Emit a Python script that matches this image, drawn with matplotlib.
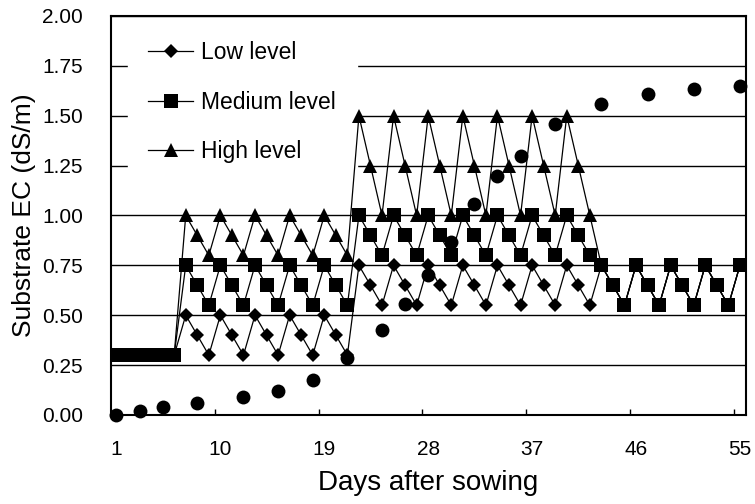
import matplotlib.pyplot as plt
from matplotlib.ticker import FormatStrFormatter

plt.rcParams['font.family'] = ['Liberation Sans', 'DejaVu Sans']

# days after sowing, 1..55
days = list(range(1, 56))

# substrate EC set points (dS/m), one per day
low_level = [0.3, 0.3, 0.3, 0.3, 0.3, 0.3,
             0.5, 0.4, 0.3, 0.5, 0.4, 0.3, 0.5, 0.4, 0.3, 0.5, 0.4, 0.3, 0.5, 0.4, 0.3,
             0.75, 0.65, 0.55, 0.75, 0.65, 0.55, 0.75, 0.65, 0.55, 0.75, 0.65, 0.55,
             0.75, 0.65, 0.55, 0.75, 0.65, 0.55, 0.75, 0.65, 0.55,
             0.75, 0.65, 0.55, 0.75, 0.65, 0.55, 0.75, 0.65, 0.55, 0.75, 0.65, 0.55, 0.75]
medium_level = [0.3, 0.3, 0.3, 0.3, 0.3, 0.3,
                0.75, 0.65, 0.55, 0.75, 0.65, 0.55, 0.75, 0.65, 0.55, 0.75, 0.65, 0.55, 0.75, 0.65, 0.55,
                1.0, 0.9, 0.8, 1.0, 0.9, 0.8, 1.0, 0.9, 0.8, 1.0, 0.9, 0.8,
                1.0, 0.9, 0.8, 1.0, 0.9, 0.8, 1.0, 0.9, 0.8,
                0.75, 0.65, 0.55, 0.75, 0.65, 0.55, 0.75, 0.65, 0.55, 0.75, 0.65, 0.55, 0.75]
high_level = [0.3, 0.3, 0.3, 0.3, 0.3, 0.3,
              1.0, 0.9, 0.8, 1.0, 0.9, 0.8, 1.0, 0.9, 0.8, 1.0, 0.9, 0.8, 1.0, 0.9, 0.8,
              1.5, 1.25, 1.0, 1.5, 1.25, 1.0, 1.5, 1.25, 1.0, 1.5, 1.25, 1.0,
              1.5, 1.25, 1.0, 1.5, 1.25, 1.0, 1.5, 1.25, 1.0,
              0.75, 0.65, 0.55, 0.75, 0.65, 0.55, 0.75, 0.65, 0.55, 0.75, 0.65, 0.55, 0.75]

# measured substrate EC (circles)
measured_days = [1, 3, 5, 8, 12, 15, 18, 21, 24, 26, 28, 30, 32, 34, 36, 39, 43, 47, 51, 55]
measured_ec = [0.0, 0.02, 0.04, 0.06, 0.09, 0.12, 0.175, 0.285, 0.425, 0.555,
               0.70, 0.865, 1.06, 1.20, 1.30, 1.46, 1.56, 1.61, 1.635, 1.65]

tick_days = [1, 10, 19, 28, 37, 46, 55]


fig = plt.figure(figsize=(7.55, 5.04), dpi=100)
ax = fig.add_axes([0.1466, 0.1766, 0.8411, 0.7917])

ax.plot(days, low_level, color='black', lw=0.9, marker='D', ms=6.8,
        mec='black', mfc='black', mew=0, label='Low level', zorder=3)
ax.plot(days, high_level, color='black', lw=0.9, marker='^', ms=9.6,
        mec='black', mfc='black', mew=0, label='High level', zorder=3)
ax.plot(days, medium_level, color='black', lw=0.9, marker='s', ms=9.6,
        mec='black', mfc='black', mew=0, label='Medium level', zorder=4)
ax.plot(measured_days, measured_ec, linestyle='none', marker='o', ms=10,
        color='black', mew=0, clip_on=False, zorder=5)

ax.set_xlim(0.5, 55.5)
ax.set_ylim(0, 2.0)

ax.set_xticks(tick_days)
ax.set_xticklabels([str(d) for d in tick_days])
ax.set_xticks([9.5, 18.5, 27.5, 36.5, 45.5, 54.5], minor=True)
ax.tick_params(axis='x', which='major', length=0, pad=18, labelsize=15)
ax.tick_params(axis='x', which='minor', direction='in', length=4.5, width=1)

ax.set_yticks([0, 0.25, 0.5, 0.75, 1.0, 1.25, 1.5, 1.75, 2.0])
ax.yaxis.set_major_formatter(FormatStrFormatter('%.2f'))
ax.tick_params(axis='y', length=0, pad=20, labelsize=15)
ax.yaxis.grid(True, color='black', lw=1.0)
ax.set_axisbelow(True)

for s in ax.spines.values():
    s.set_linewidth(1.5)

ax.set_xlabel('Days after sowing', fontsize=20, labelpad=8)
ax.set_ylabel('Substrate EC (dS/m)', fontsize=19, labelpad=4)

h, l = ax.get_legend_handles_labels()
order = [0, 2, 1]
leg = ax.legend([h[i] for i in order], [l[i] for i in order],
                loc='upper left', bbox_to_anchor=(0.027, 0.989), borderaxespad=0,
                fontsize=16.5, handlelength=1.95, handletextpad=0.36, labelspacing=1.16,
                borderpad=0.9, frameon=True, fancybox=False, framealpha=1,
                facecolor='white', edgecolor='white')
leg.set_zorder(2.5)

fig.savefig('out.png', dpi=100)
